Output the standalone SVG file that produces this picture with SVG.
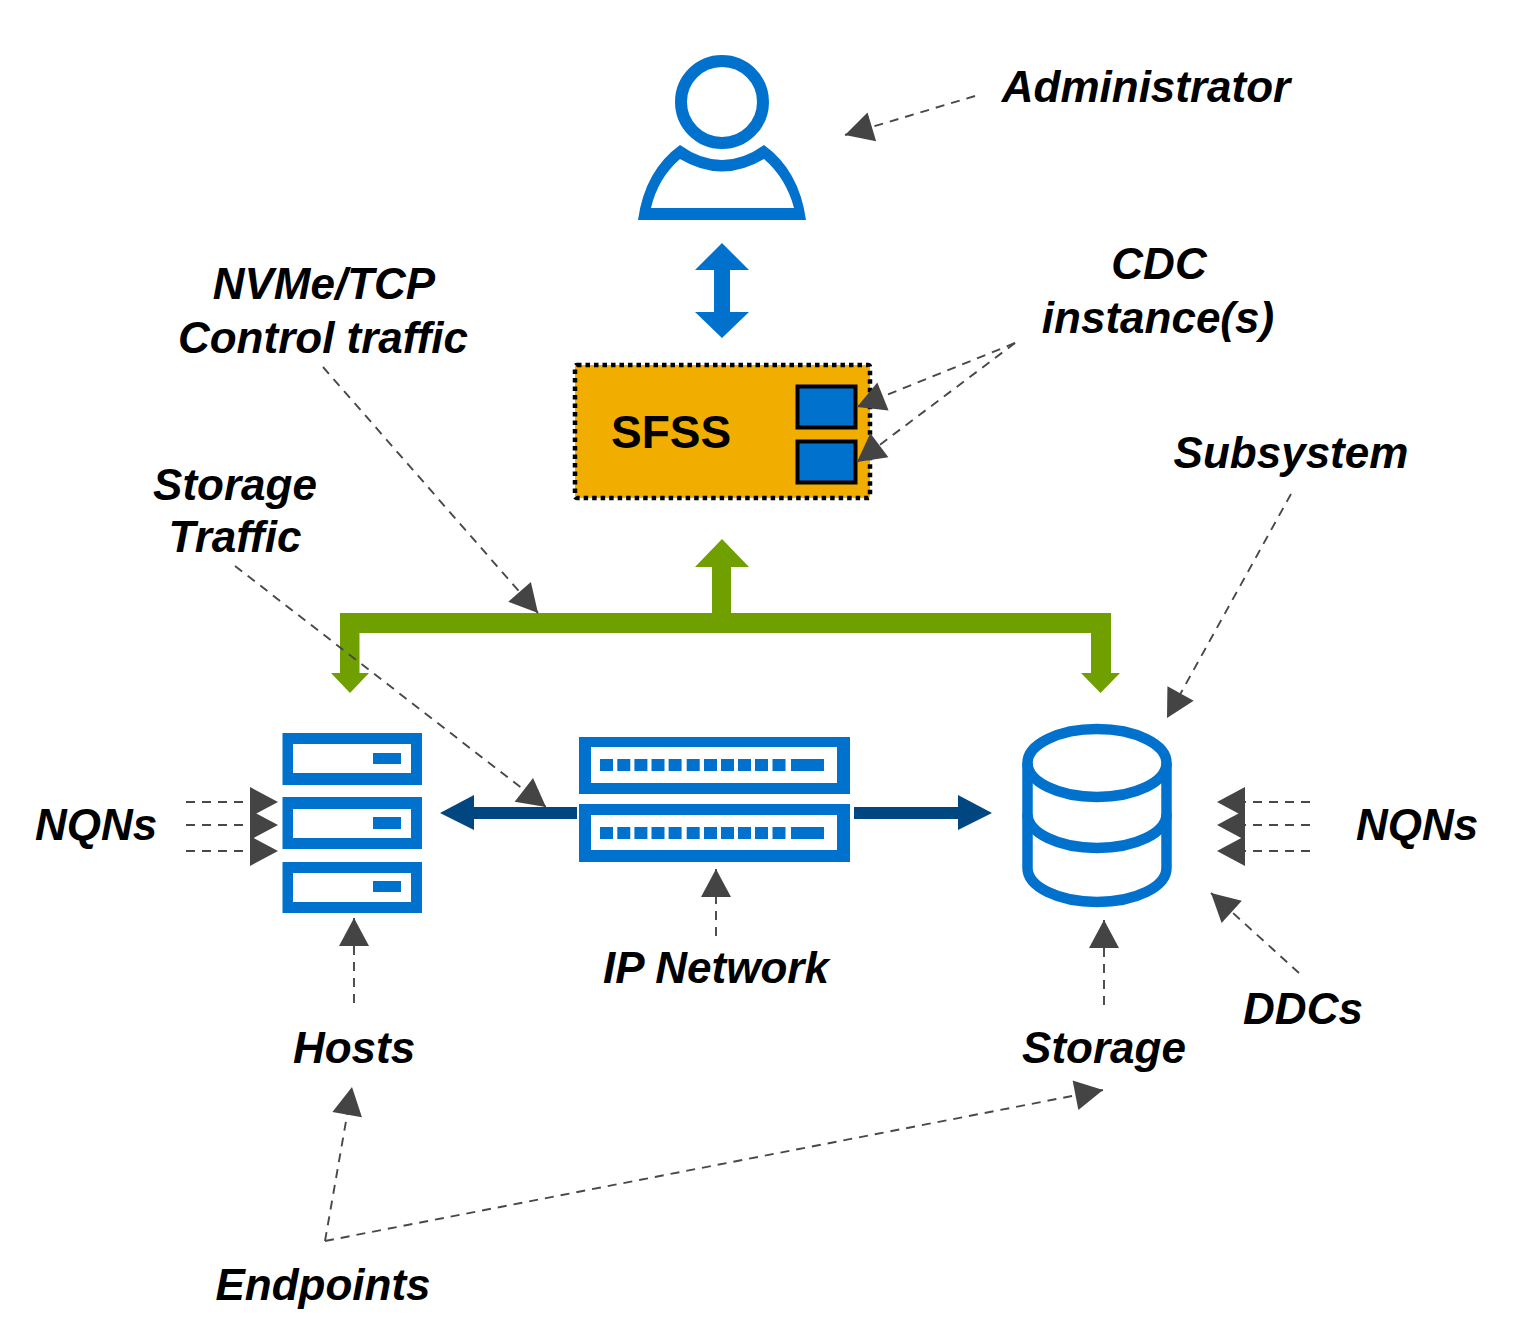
<svg xmlns="http://www.w3.org/2000/svg" width="1514" height="1323" viewBox="0 0 1514 1323">
<style>
.lbl{font-family:"Liberation Sans",Arial,sans-serif;font-weight:bold;font-style:italic;font-size:44px;fill:#000;text-anchor:middle}
.blue{fill:#0072CE}
.ln{fill:none;stroke:#484848;stroke-width:1.9;stroke-dasharray:9 7}
.gr{fill:#70A000}
</style>
<defs>
<marker id="h" markerUnits="userSpaceOnUse" markerWidth="30" markerHeight="34" refX="29" refY="17" orient="auto"><path d="M1 2L29 17L1 32Z" fill="#444"/></marker>
</defs>
<rect width="1514" height="1323" fill="#fff"/>
<g id="administrator">
<circle cx="722" cy="102" r="41" fill="none" stroke="#0072CE" stroke-width="12"/>
<path class="blue" fill-rule="evenodd" d="M638 220Q645 170 680 145Q722 175 764 145Q799 170 806 220ZM651 208H794Q786 178 764 159Q722 184 680 159Q658 178 651 208Z"/>
</g>
<g id="sfss">
<rect x="575" y="365" width="295" height="133" rx="2" fill="#F2AE00" stroke="#000" stroke-width="4.500" stroke-dasharray="4.500 4"/>
<rect x="797.500" y="386.500" width="58" height="41" fill="#0072CE" stroke="#000" stroke-width="4"/>
<rect x="797.500" y="441.500" width="58" height="41" fill="#0072CE" stroke="#000" stroke-width="4"/>
<text x="611" y="448" font-family="'Liberation Sans',Arial,sans-serif" font-weight="bold" font-size="46">SFSS</text>
</g>
<g id="hosts">
<path class="blue" fill-rule="evenodd" d="M282.500 733H422V785H282.500ZM293 744V773H411V744ZM373 753H401V764H373Z"/>
<path class="blue" fill-rule="evenodd" d="M282.500 797H422V849H282.500ZM293 809V838H411V809ZM373 817H401V829H373Z"/>
<path class="blue" fill-rule="evenodd" d="M282.500 862H422V913H282.500ZM293 873V902H411V873ZM373 881H401V892H373Z"/>
</g>
<g id="ip-network">
<path class="blue" fill-rule="evenodd" d="M579 737H850V794H579ZM591 747V783H837V747ZM600 759h13v12h-13ZM617.300 759h13v12h-13ZM634.400 759h13v12h-13ZM651.500 759h13v12h-13ZM668.600 759h13v12h-13ZM686.700 759h13v12h-13ZM704 759h13v12h-13ZM721 759h13v12h-13ZM738 759h13v12h-13ZM755 759h13v12h-13ZM772.500 759h13v12h-13ZM791 759h33v12h-33Z"/>
<path class="blue" fill-rule="evenodd" d="M579 804H850V862H579ZM591 815V850H837V815ZM600 827h13v12h-13ZM617.300 827h13v12h-13ZM634.400 827h13v12h-13ZM651.500 827h13v12h-13ZM668.600 827h13v12h-13ZM686.700 827h13v12h-13ZM704 827h13v12h-13ZM721 827h13v12h-13ZM738 827h13v12h-13ZM755 827h13v12h-13ZM772.500 827h13v12h-13ZM791 827h33v12h-33Z"/>
</g>
<g id="storage" fill="none" stroke="#0072CE" stroke-width="10.500">
<ellipse cx="1097" cy="763" rx="69.500" ry="34"/>
<path d="M1027.500 763V868A69.500 34 0 0 0 1166.500 868V763"/>
<path d="M1027.500 814A69.500 34 0 0 0 1166.500 814"/>
</g>
<g id="connectors">
<g id="traffic">
<path class="blue" d="M722 243L749 270H730V312H749L722 338L695 312H714V270H695Z"/>
<path class="gr" d="M340 613H712V567H695L722 539L749 567H731V613H1111V673H1120L1100.500 693L1081 673H1091V633H359.500V673H369L350 693L331 673H340Z"/>
<path fill="#004680" d="M440 813L474 795V807H577V819H474V830ZM992 813L958 795V807H854V819H958V830Z"/>
</g>
<g id="callouts" marker-end="url(#h)">
<path class="ln" d="M975 96L845 135"/>
<path class="ln" d="M1015 343L857 407"/>
<path class="ln" d="M1015 343L857 462"/>
<path class="ln" d="M323 367L538 613"/>
<path class="ln" d="M235 566L546 807"/>
<path class="ln" d="M1291 494L1167 718"/>
<path class="ln" d="M186 802H278"/>
<path class="ln" d="M186 825H278"/>
<path class="ln" d="M186 851H278"/>
<path class="ln" d="M1310 802H1217"/>
<path class="ln" d="M1310 825H1217"/>
<path class="ln" d="M1310 851H1217"/>
<path class="ln" d="M716 936V869"/>
<path class="ln" d="M354 1003V918"/>
<path class="ln" d="M1104 1005V920"/>
<path class="ln" d="M1299 973L1211 893"/>
<path class="ln" d="M325 1241L352 1087"/>
<path class="ln" d="M325 1241L1103 1090"/>
</g>
</g>
<g id="labels">
<text class="lbl" x="1146" y="102">Administrator</text>
<text class="lbl" x="1159" y="279">CDC</text>
<text class="lbl" x="1158" y="333">instance(s)</text>
<text class="lbl" x="324" y="299">NVMe/TCP</text>
<text class="lbl" x="323" y="352.500">Control traffic</text>
<text class="lbl" x="235" y="499.500">Storage</text>
<text class="lbl" x="235" y="552">Traffic</text>
<text class="lbl" x="1291" y="468">Subsystem</text>
<text class="lbl" x="96" y="839.500">NQNs</text>
<text class="lbl" x="1417" y="839.500">NQNs</text>
<text class="lbl" x="716" y="982.500">IP Network</text>
<text class="lbl" x="354" y="1063">Hosts</text>
<text class="lbl" x="1104" y="1063">Storage</text>
<text class="lbl" x="1303" y="1023.500">DDCs</text>
<text class="lbl" x="323" y="1299.500">Endpoints</text>
</g>
</svg>
